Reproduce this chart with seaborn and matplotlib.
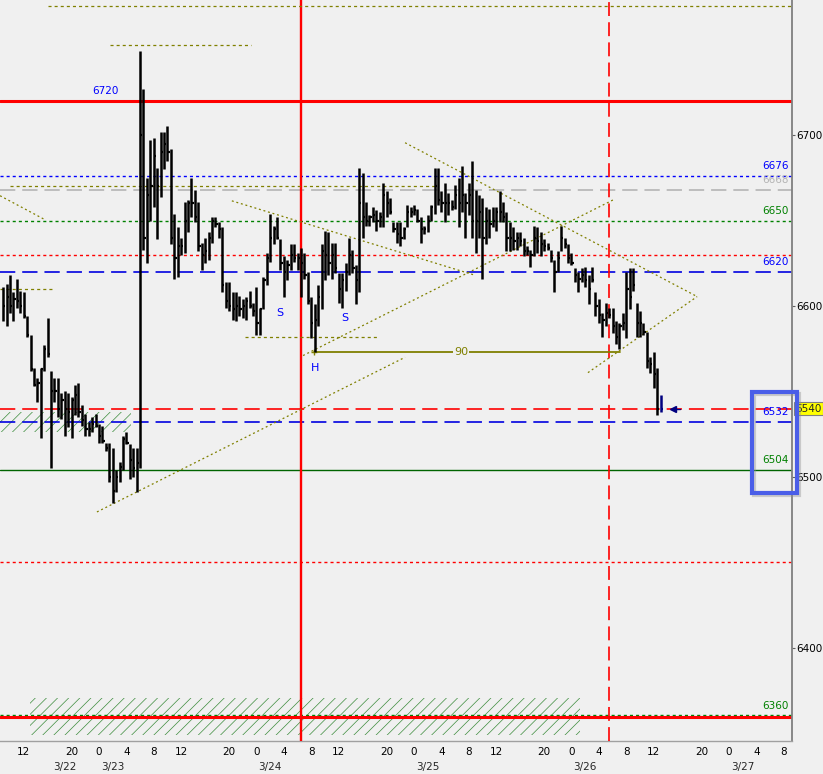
import numpy as np
import pandas as pd
import matplotlib
matplotlib.use("Agg")
import matplotlib.pyplot as plt
from matplotlib.patches import Rectangle
from matplotlib.ticker import MultipleLocator
import seaborn as sns

# --- Dados: barras de 30 min (slot 0 = 3/23 00:00) ---
bar_start = -28
highs = [6611, 6613, 6618, 6608, 6616, 6609, 6608, 6594, 6583, 6564,
         6558, 6564, 6577, 6593, 6562, 6558, 6558, 6549, 6550, 6549,
         6547, 6554, 6555, 6542, 6537, 6532, 6535, 6537, 6531, 6530,
         6520, 6520, 6517, 6504, 6509, 6524, 6526, 6519, 6517, 6517,
         6749, 6727, 6675, 6697, 6698, 6681, 6702, 6702, 6705, 6692,
         6654, 6646, 6640, 6661, 6662, 6675, 6668, 6661, 6637, 6640,
         6643, 6652, 6652, 6649, 6646, 6614, 6614, 6608, 6608, 6606,
         6604, 6605, 6609, 6602, 6611, 6599, 6617, 6631, 6654, 6647,
         6652, 6639, 6629, 6627, 6636, 6636, 6631, 6634, 6631, 6620,
         6605, 6601, 6612, 6636, 6644, 6643, 6637, 6637, 6619, 6619,
         6625, 6640, 6633, 6624, 6681, 6678, 6661, 6653, 6658, 6656,
         6655, 6672, 6667, 6663, 6649, 6649, 6649, 6646, 6659, 6658,
         6659, 6657, 6652, 6647, 6653, 6659, 6681, 6681, 6667, 6672,
         6666, 6662, 6671, 6675, 6682, 6666, 6672, 6685, 6668, 6665,
         6663, 6658, 6657, 6658, 6658, 6667, 6661, 6655, 6649, 6646,
         6643, 6643, 6640, 6635, 6633, 6647, 6646, 6643, 6639, 6637,
         6633, 6627, 6632, 6647, 6640, 6636, 6631, 6622, 6620, 6622,
         6623, 6618, 6623, 6608, 6604, 6596, 6602, 6599, 6599, 6591,
         6590, 6596, 6620, 6622, 6622, 6602, 6597, 6590, 6585, 6570,
         6573, 6564, 6548]
lows = [6591, 6588, 6596, 6591, 6599, 6596, 6593, 6582, 6562, 6553,
        6544, 6523, 6562, 6570, 6505, 6544, 6535, 6534, 6524, 6529,
        6523, 6536, 6535, 6530, 6524, 6524, 6526, 6529, 6520, 6520,
        6515, 6497, 6485, 6491, 6497, 6504, 6519, 6499, 6500, 6491,
        6505, 6633, 6625, 6650, 6658, 6639, 6664, 6680, 6685, 6636,
        6616, 6617, 6630, 6631, 6643, 6652, 6649, 6632, 6621, 6625,
        6627, 6637, 6646, 6640, 6608, 6599, 6597, 6592, 6591, 6594,
        6593, 6592, 6599, 6594, 6583, 6583, 6598, 6612, 6626, 6636,
        6639, 6621, 6605, 6615, 6621, 6626, 6621, 6605, 6616, 6601,
        6581, 6573, 6588, 6598, 6615, 6618, 6616, 6619, 6602, 6599,
        6609, 6618, 6619, 6601, 6608, 6640, 6647, 6647, 6649, 6644,
        6646, 6646, 6652, 6654, 6643, 6637, 6635, 6639, 6646, 6652,
        6653, 6649, 6637, 6642, 6643, 6650, 6654, 6659, 6655, 6649,
        6653, 6656, 6657, 6646, 6655, 6640, 6653, 6640, 6631, 6640,
        6616, 6636, 6640, 6646, 6644, 6649, 6649, 6632, 6632, 6633,
        6633, 6635, 6629, 6630, 6623, 6629, 6631, 6629, 6632, 6633,
        6626, 6608, 6620, 6632, 6634, 6625, 6624, 6614, 6608, 6614,
        6611, 6601, 6614, 6594, 6590, 6582, 6588, 6593, 6584, 6578,
        6575, 6586, 6581, 6598, 6609, 6582, 6582, 6583, 6564, 6561,
        6552, 6536, 6538]
closes = [6600, 6605, 6600, 6604, 6603, 6600, 6594, 6583, 6563, 6554,
          6555, 6563, 6575, 6572, 6550, 6550, 6540, 6545, 6540, 6538,
          6545, 6548, 6538, 6533, 6528, 6528, 6531, 6530, 6524, 6521,
          6517, 6500, 6492, 6500, 6506, 6522, 6520, 6510, 6505, 6508,
          6700, 6640, 6665, 6670, 6688, 6670, 6690, 6695, 6690, 6640,
          6628, 6635, 6635, 6650, 6660, 6660, 6652, 6635, 6630, 6632,
          6640, 6650, 6648, 6645, 6612, 6603, 6600, 6598, 6600, 6598,
          6600, 6603, 6600, 6597, 6590, 6598, 6615, 6628, 6640, 6645,
          6640, 6625, 6620, 6624, 6630, 6628, 6628, 6625, 6618, 6603,
          6590, 6592, 6605, 6632, 6630, 6625, 6630, 6622, 6610, 6615,
          6620, 6630, 6622, 6615, 6660, 6652, 6650, 6652, 6653, 6650,
          6652, 6665, 6660, 6655, 6645, 6642, 6640, 6645, 6655, 6655,
          6656, 6650, 6645, 6645, 6650, 6658, 6670, 6662, 6660, 6660,
          6660, 6658, 6665, 6660, 6665, 6660, 6665, 6650, 6650, 6655,
          6640, 6650, 6648, 6650, 6655, 6655, 6652, 6640, 6640, 6638,
          6640, 6638, 6632, 6632, 6630, 6640, 6638, 6636, 6635, 6634,
          6628, 6620, 6628, 6640, 6636, 6628, 6625, 6618, 6616, 6618,
          6615, 6610, 6615, 6600, 6595, 6592, 6596, 6595, 6588, 6582,
          6588, 6590, 6610, 6605, 6612, 6590, 6590, 6585, 6568, 6566,
          6560, 6540, 6540]

# eixo de tempo
hour_ticks = [-22, -8, 0, 8, 16, 24, 38, 46, 54, 62, 70, 84, 92, 100, 108, 116,
              130, 138, 146, 154, 162, 176, 184, 192, 200]
hour_labels = ['12', '20', '0', '4', '8', '12', '20', '0', '4', '8', '12', '20', '0',
               '4', '8', '12', '20', '0', '4', '8', '12', '20', '0', '4', '8']
date_ticks = [-10, 4, 50, 96, 142, 188]
date_labels = ['3/22', '3/23', '3/24', '3/25', '3/26', '3/27']
price_ticks = [6400, 6500, 6600, 6700]

# níveis horizontais (linha inteira)
level_prices = [6720, 6676, 6668, 6650, 6630, 6620, 6540, 6532, 6504, 6450, 6361, 6359.5]
level_colors = ['#FF0000', '#0000FF', '#B4B4B4', '#008000', '#FF0000', '#0000E0',
                '#FF0000', '#0000E0', '#006400', '#FF0000', '#008000', '#FF0000']
level_kinds = ['thick', 'dot', 'dash', 'dot', 'dot', 'dash',
               'dash', 'dash', 'solid', 'dot', 'dot', 'thick']

# rótulos dos níveis à direita
label_texts = ['6676', '6668', '6650', '6620', '6532', '6504', '6360']
label_prices = [6676, 6668, 6650, 6620, 6532, 6504, 6360]
label_colors = ['#0000FF', '#B4B4B4', '#008000', '#0000FF', '#0000FF', '#008000', '#008000']

# segmentos pontilhados horizontais (preço, início, fim)
olive_segments = [(6775.5, -14.9, 202.4), (6752.5, 3.2, 44.5), (6670, -26, 98),
                  (6610, -28.9, -13.7), (6582, 42.6, 81.5)]
# linhas de tendência (t0, p0, t1, p1)
trend_lines = [(59.6, 6571, 150.1, 6662), (-0.6, 6479.5, 89.4, 6570),
               (38.8, 6661.5, 109.8, 6618), (89.4, 6695.5, 174.7, 6605.5),
               (142.8, 6561, 174.7, 6605.5), (-28.9, 6664.5, -15.8, 6650.5)]
# zonas hachuradas (t0, t1, preço baixo, preço alto)
hatch_zones = [(-28.9, 9.3, 6526, 6538), (-20.2, 140.5, 6349, 6370.5)]
# medição cabeça-ombro
measure_t = [62.8, 152.2]
measure_price = 6573
vlines_t = [59.0, 149.0]

BG = '#F0F0F0'
sns.set_theme(style='white', rc={'axes.facecolor': BG, 'figure.facecolor': BG})
plt.rcParams['font.family'] = ['DejaVu Sans']
plt.rcParams['lines.scale_dashes'] = False
plt.rcParams['hatch.linewidth'] = 0.5

fig = plt.figure(figsize=(8.23, 7.74), dpi=100)
ax = fig.add_axes([0, 33 / 774, 792 / 823, 741 / 774])
ax.set_facecolor(BG)
ax.set_xlim(-28.91, 202.4)
ax.set_ylim(6345.5, 6779)

styles = {'thick': dict(lw=2.2, ls='-'),
          'dot': dict(lw=1.0, ls=(0, (2.2, 2.2))),
          'dash': dict(lw=1.2, ls=(0, (11, 5))),
          'solid': dict(lw=1.0, ls='-')}
for p, c, k in zip(level_prices, level_colors, level_kinds):
    ax.axhline(p, color=c, zorder=2, **styles[k])

# zonas hachuradas
for t0, t1, lo, hi in hatch_zones:
    ax.fill_between([t0, t1], lo, hi, facecolor='none', edgecolor='#3C8C3C',
                    hatch='///', linewidth=0, zorder=1)

# linhas verticais
ax.axvline(vlines_t[0], color='#FF0000', lw=1.7, zorder=3)
ax.axvline(vlines_t[1], color='#FF0000', lw=1.2, ls=(0, (10, 4.5)), zorder=3)

# desenhos em oliva
for p, t0, t1 in olive_segments:
    ax.plot([t0, t1], [p, p], color='#808000', lw=0.9, ls=(0, (2.2, 2.2)), zorder=3)
for t0, p0, t1, p1 in trend_lines:
    ax.plot([t0, t1], [p0, p1], color='#808000', lw=0.9, ls=(0, (1.4, 2.0)), zorder=3)
sns.lineplot(x=measure_t, y=[measure_price] * 2, color='#808000', lw=1.3, ax=ax, zorder=3)
ax.plot(measure_t[0], measure_price, marker='+', color='#808000', ms=5, zorder=4)
ax.text(np.mean(measure_t) - 1.8, measure_price, '90', color='#808000', fontsize=8,
        ha='center', va='center', zorder=4,
        bbox=dict(facecolor=BG, edgecolor='none', pad=0.5))

# barras OHLC
bars = pd.DataFrame({'t': np.arange(bar_start, bar_start + len(highs)),
                     'high': highs, 'low': lows, 'close': closes})
body, live = bars.iloc[:-1], bars.iloc[-1:]
ax.vlines(body.t, body.low, body.high, color='black', lw=1.8, zorder=5)
ax.hlines(body.close, body.t, body.t + 0.65, color='black', lw=1.6, zorder=5)
ax.vlines(live.t, live.low, live.high, color='#000080', lw=1.8, zorder=5)
ax.hlines(live.close, live.t, live.t + 0.65, color='#000080', lw=1.6, zorder=5)
ax.plot([167.6, 169.7], [6540, 6540], color='#000080', lw=1.0, zorder=5)
ax.plot(167.6, 6540, marker='<', color='#000080', ms=5, zorder=6)

# padrão OCO
ax.text(52.9, 6596, 'S', color='#0000FF', fontsize=8, ha='center', va='center')
ax.text(71.8, 6593, 'S', color='#0000FF', fontsize=8, ha='center', va='center')
ax.text(63.1, 6564, 'H', color='#0000FF', fontsize=8, ha='center', va='center')

# rótulos de nível
ax.annotate('6720', xy=(-2.0, 6720), xytext=(0, 7), textcoords='offset points',
            color='#0000FF', fontsize=7.5, ha='left', va='center')
for txt, p, c in zip(label_texts, label_prices, label_colors):
    ax.annotate(txt, xy=(0.996, p), xycoords=('axes fraction', 'data'),
                xytext=(0, 7), textcoords='offset points',
                color=c, fontsize=7.5, ha='right', va='center')
ax.annotate('6540', xy=(1.0, 6540), xycoords=('axes fraction', 'data'),
            xytext=(2.5, 0), textcoords='offset points', fontsize=7.5,
            ha='left', va='center', annotation_clip=False,
            bbox=dict(boxstyle='square,pad=0.15', facecolor='#FFFF00', edgecolor='#808080', lw=0.8))

# eixos
ax.yaxis.tick_right()
ax.set_yticks(price_ticks, [str(v) for v in price_ticks])
ax.set_xticks(hour_ticks, hour_labels)
ax.xaxis.set_minor_locator(MultipleLocator(4 / 3))
ax.tick_params(axis='y', direction='out', length=2, width=0.8, pad=1,
               labelsize=7.5, color='#606060', labelcolor='black')
ax.tick_params(axis='x', which='both', direction='out', length=2, width=0.8,
               pad=2, labelsize=7.5, color='#909090', labelcolor='black')
for d, lab in zip(date_ticks, date_labels):
    ax.text(d, -0.035, lab, transform=ax.get_xaxis_transform(),
            ha='center', va='center', fontsize=7.5)
for side in ['top', 'left']:
    ax.spines[side].set_visible(False)
ax.spines['right'].set_color('#808080')
ax.spines['right'].set_linewidth(1.3)
ax.spines['bottom'].set_color('#A0A0A0')
ax.spines['bottom'].set_linewidth(1.0)
ax.grid(False)

# destaque azul
fig.add_artist(Rectangle((754 / 823, 1 - 495 / 774), 45 / 823, 101 / 774,
                         transform=fig.transFigure, fill=False,
                         edgecolor='#909090', lw=3, alpha=0.4))
fig.add_artist(Rectangle((752 / 823, 1 - 493 / 774), 45 / 823, 101 / 774,
                         transform=fig.transFigure, fill=False,
                         edgecolor='#4A5EE8', lw=3))

fig.savefig('out.png', dpi=100, facecolor=BG)
